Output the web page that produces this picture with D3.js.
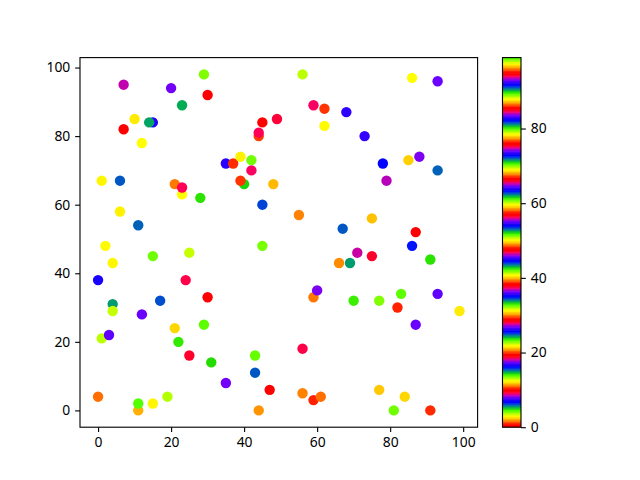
<!DOCTYPE html>
<html><head><meta charset="utf-8">
<script src="https://cdn.jsdelivr.net/npm/d3@7/dist/d3.min.js"></script>
<style>body{margin:0;background:#fff}</style>
</head><body><svg id="chart" width="640" height="480"></svg>
<script>
const xValues = [0,0,1,2,1,4,4,4,3,7,7,6,6,10,12,11,12,11,11,15,14,15,15,17,19,20,21,21,23,23,22,23,24,25,25,28,29,30,29,30,31,35,37,39,42,42,40,39,48,45,49,44,44,45,55,67,45,66,59,60,43,43,35,47,44,56,56,59,61,56,59,62,68,62,86,93,73,78,85,88,93,79,75,87,86,71,75,69,91,70,77,83,93,82,99,87,77,84,81,91];
const yValues = [4,38,67,48,21,43,31,29,22,95,82,67,58,85,78,54,28,0,2,84,84,45,2,32,4,94,24,66,63,65,20,89,38,16,46,62,98,92,25,33,14,72,72,74,73,70,66,67,66,84,85,80,81,60,57,53,48,43,33,35,16,11,8,6,0,18,5,3,4,98,89,88,87,83,97,96,80,72,73,74,70,67,56,52,48,46,45,43,44,32,32,34,34,30,29,25,6,4,0,0];
const cValues = [11,7,3,69,79,50,81,60,36,37,10,25,31,12,88,6,55,2,99,26,62,89,50,44,98,74,97,30,22,28,33,43,47,85,13,52,4,19,80,57,71,45,20,31,42,9,90,39,21,0,66,58,28,63,49,72,23,68,77,93,61,25,27,38,87,47,96,1,11,79,9,39,17,69,88,8,83,54,78,46,6,65,40,76,16,56,85,81,52,14,4,80,36,1,12,55,59,97,42,20];
const xTicks = [0,20,40,60,80,100];
const yTicks = [0,20,40,60,80,100];
const cTicks = [0,20,40,60,80];

const FONT = "'Noto Sans', 'DejaVu Sans', sans-serif";
const svg = d3.select("#chart");
svg.append("rect").attr("width",640).attr("height",480).attr("fill","#fff");

const L=80, R=477.6, T=57.6, B=427.2;
const xExt = d3.extent(xValues), yExt = d3.extent(yValues);
const xm = (xExt[1]-xExt[0])*0.05, ym = (yExt[1]-yExt[0])*0.05;
const x = d3.scaleLinear().domain([xExt[0]-xm, xExt[1]+xm]).range([L,R]);
const y = d3.scaleLinear().domain([yExt[0]-ym, yExt[1]+ym]).range([B,T]);

function prism(t){
  const cl = v => Math.max(0, Math.min(1, v));
  const r = cl(0.75*Math.sin((t*20.9+0.25)*Math.PI)+0.67);
  const g = cl(0.75*Math.sin((t*20.9-0.25)*Math.PI)+0.33);
  const b = cl(-1.1*Math.sin(t*20.9*Math.PI));
  return d3.rgb(Math.round(r*255), Math.round(g*255), Math.round(b*255)).formatHex();
}
const N = 256;
const lut = d3.range(N).map(i => prism(i/(N-1)));
const cExt = d3.extent(cValues);
const norm = d3.scaleLinear().domain(cExt).range([0,1]);
const colorOf = c => lut[Math.max(0, Math.min(N-1, Math.floor(norm(c)*N)))];

const TL = 3.5*100/72, PAD = 3.5*100/72, LW = 0.8*100/72, FS = 10*100/72;

// points
const pts = xValues.map((d,i)=>({x:d, y:yValues[i], c:cValues[i]}));
svg.append("g").selectAll("circle").data(pts).join("circle")
  .attr("cx", d=>x(d.x)).attr("cy", d=>y(d.y)).attr("r", 5.2)
  .attr("fill", d=>colorOf(d.c));

// axes
function styleAxis(g){
  g.select(".domain").remove();
  g.selectAll(".tick line").attr("stroke","#000").attr("stroke-width",LW);
  g.selectAll(".tick text").attr("fill","#000").attr("font-family",FONT).attr("font-size",FS);
}
const gx = svg.append("g").attr("transform",`translate(0,${B})`)
  .call(d3.axisBottom(x).tickValues(xTicks).tickSize(TL).tickPadding(PAD).tickFormat(d3.format("d")));
styleAxis(gx);
const gy = svg.append("g").attr("transform",`translate(${L},0)`)
  .call(d3.axisLeft(y).tickValues(yTicks).tickSize(TL).tickPadding(PAD).tickFormat(d3.format("d")));
styleAxis(gy);
svg.append("rect").attr("x",L).attr("y",T).attr("width",R-L).attr("height",B-T)
  .attr("fill","none").attr("stroke","#000").attr("stroke-width",LW);

// colorbar
const CL = 502.5, CR = 521;
const cy = d3.scaleLinear().domain(cExt).range([B,T]);
const bandH = (B-T)/N;
svg.append("g").selectAll("rect").data(lut).join("rect")
  .attr("x", CL).attr("width", CR-CL)
  .attr("y", (d,i)=> B - (i+1)*bandH - 0.3).attr("height", bandH+0.6)
  .attr("fill", d=>d);
const gc = svg.append("g").attr("transform",`translate(${CR},0)`)
  .call(d3.axisRight(cy).tickValues(cTicks).tickSize(TL).tickPadding(PAD).tickFormat(d3.format("d")));
styleAxis(gc);
svg.append("rect").attr("x",CL).attr("y",T).attr("width",CR-CL).attr("height",B-T)
  .attr("fill","none").attr("stroke","#000").attr("stroke-width",LW);
</script></body></html>
